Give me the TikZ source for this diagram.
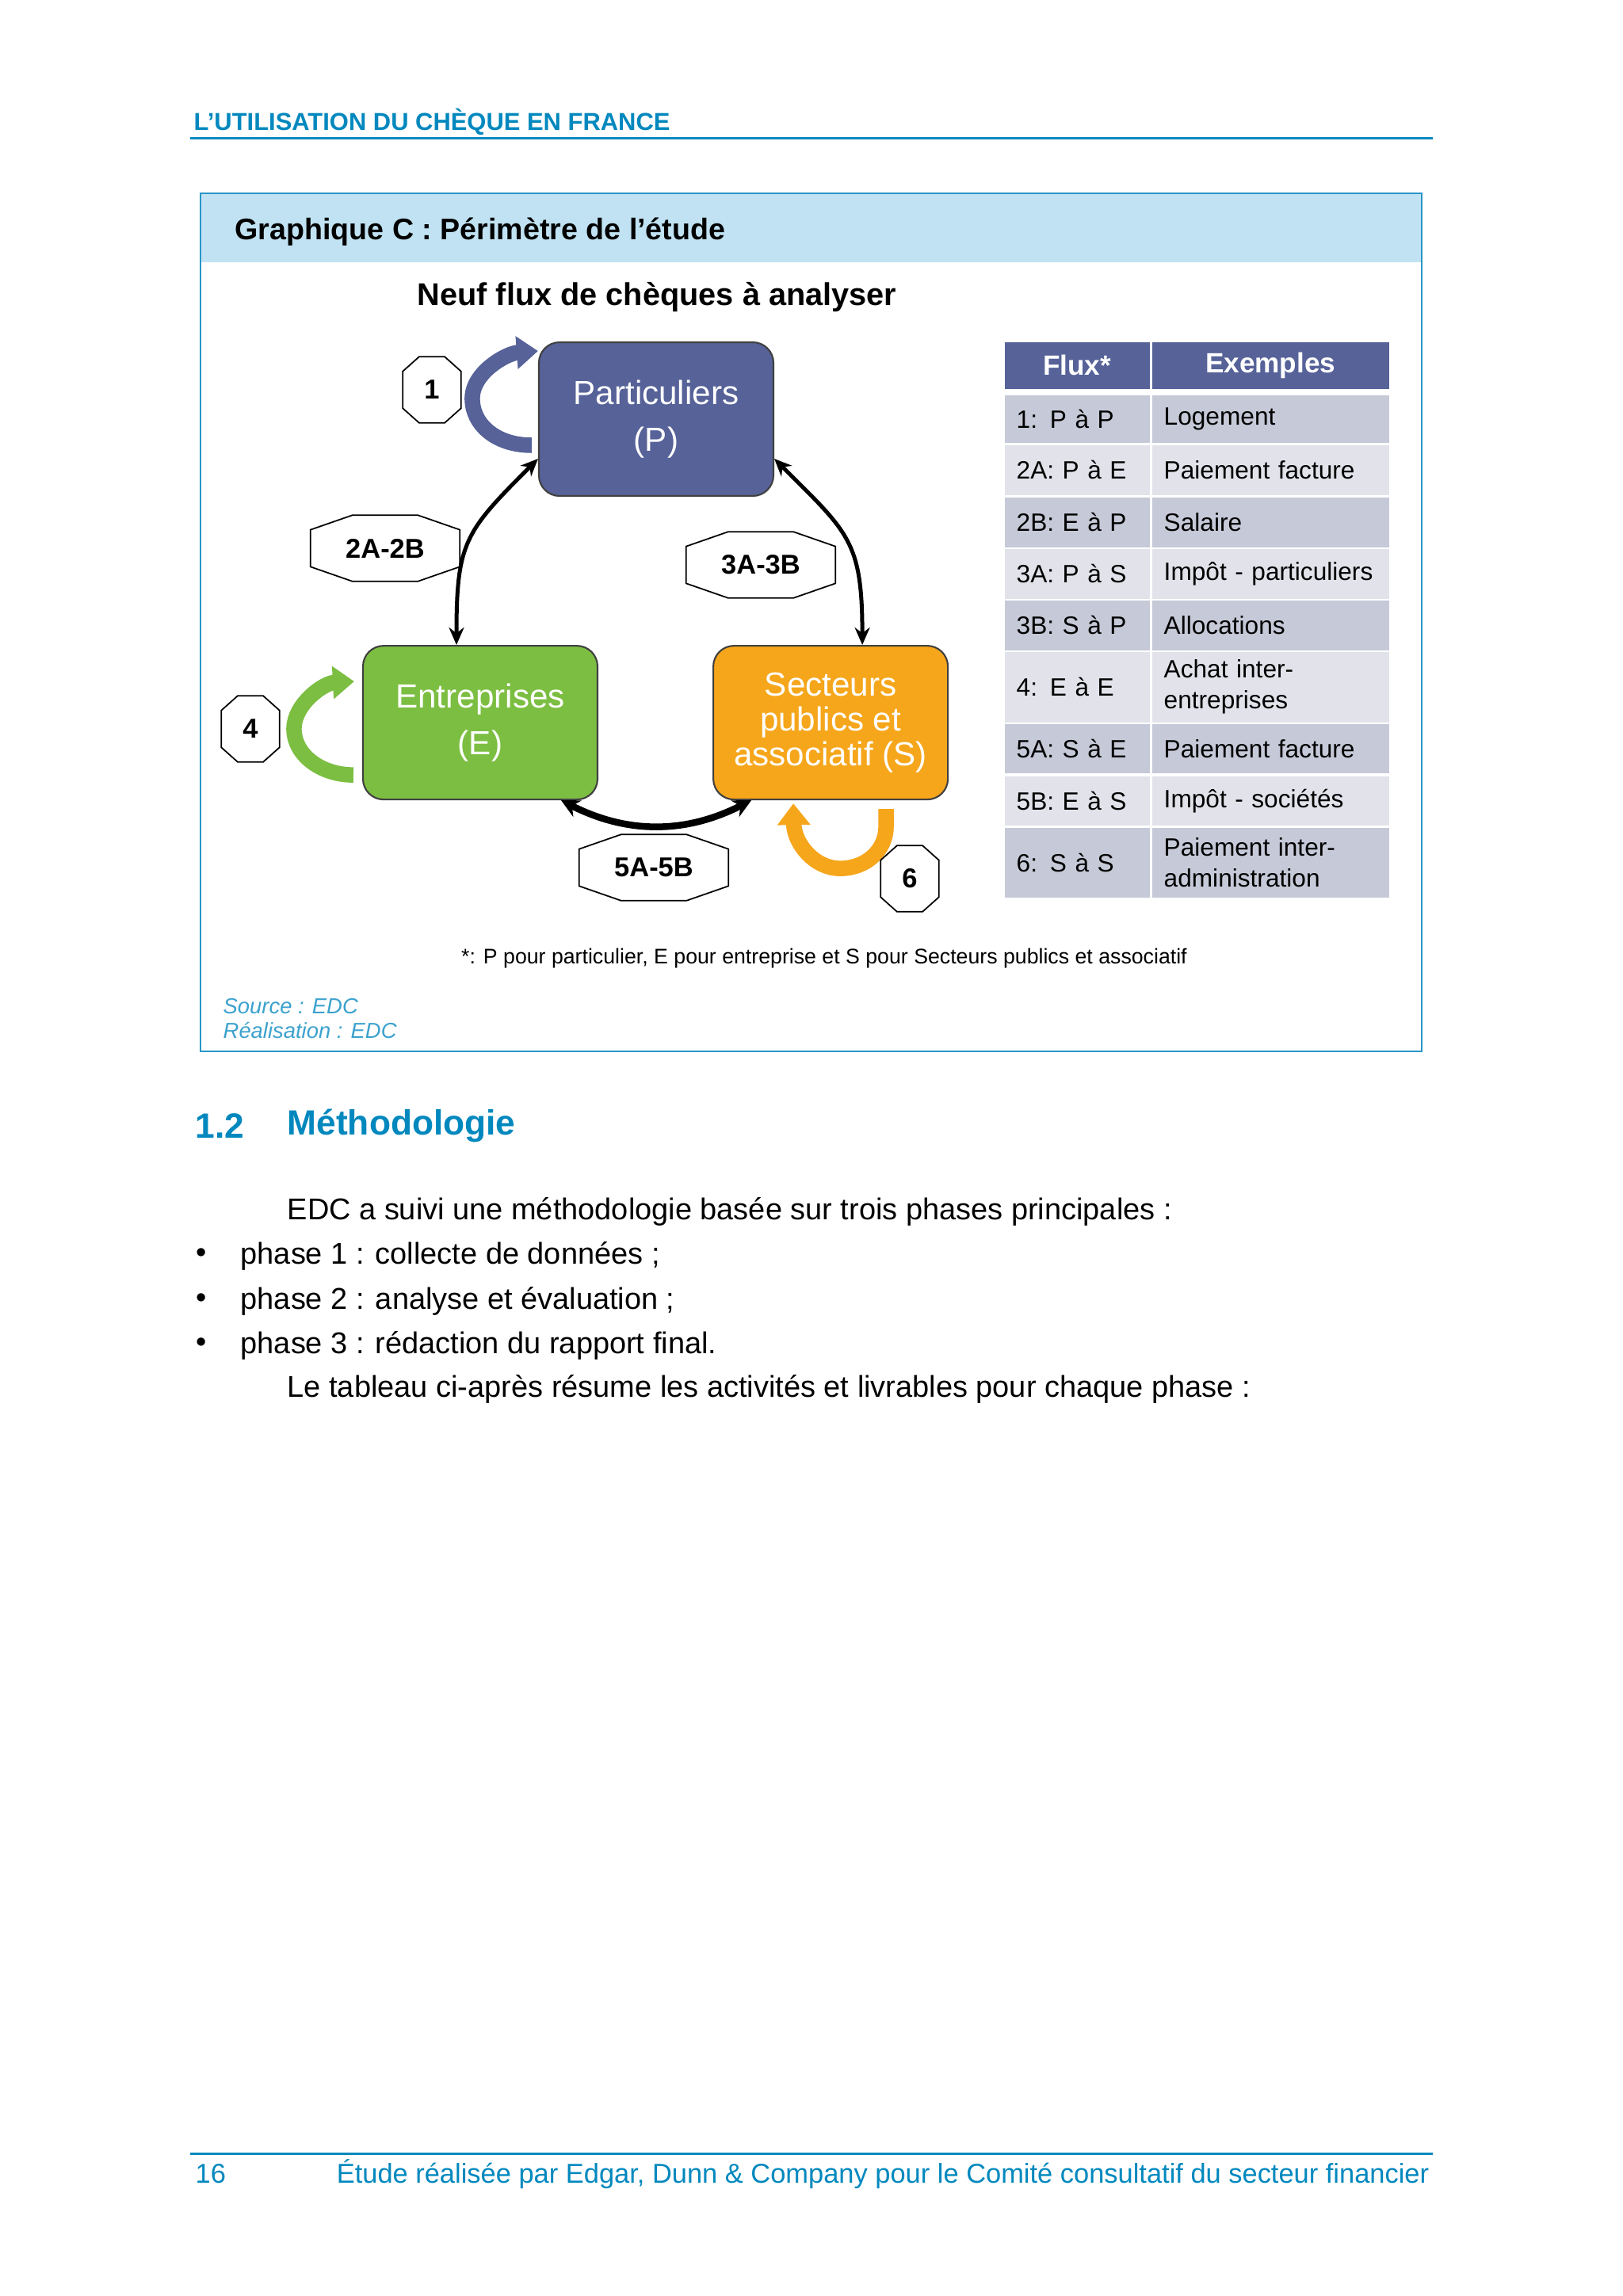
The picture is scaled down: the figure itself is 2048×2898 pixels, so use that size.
\documentclass[tikz,border=0pt]{standalone}
\usepackage{fontspec}
\setmainfont{Liberation Sans}
\usetikzlibrary{positioning,calc,arrows.meta}
\definecolor{edcblue}{RGB}{0,136,190}
\definecolor{edcframe}{RGB}{40,150,200}
\definecolor{edcband}{RGB}{192,226,242}
\definecolor{edcsource}{RGB}{60,162,206}
\definecolor{partblue}{RGB}{86,98,152}
\definecolor{entgreen}{RGB}{124,190,66}
\definecolor{secorange}{RGB}{246,166,27}
\definecolor{rowdark}{RGB}{198,201,215}
\definecolor{rowlight}{RGB}{226,227,234}

% octagon drawn round a label node
\newcommand{\octagon}[1]{%
  \draw[lblline] ($(#1.north west)!0.28!(#1.north east)$) -- ($(#1.north west)!0.72!(#1.north east)$)
    -- ($(#1.north east)!0.22!(#1.south east)$) -- ($(#1.north east)!0.78!(#1.south east)$)
    -- ($(#1.south east)!0.28!(#1.south west)$) -- ($(#1.south east)!0.72!(#1.south west)$)
    -- ($(#1.south west)!0.22!(#1.north west)$) -- ($(#1.south west)!0.78!(#1.north west)$) -- cycle;}

\begin{document}
\begin{tikzpicture}[x=0.1mm, y=-0.1mm, every node/.style={inner sep=0pt},
  sector/.style={rectangle, rounded corners=2.6mm, draw=black!75, line width=0.6pt,
                 minimum width=29.6mm, minimum height=19.4mm, align=center, text=white,
                 font=\fontsize{12}{12.4}\selectfont},
  lbl/.style={minimum width=18.7mm, minimum height=8.2mm, font=\fontsize{9.8}{11}\selectfont\bfseries},
  lblsmall/.style={lbl, minimum width=7.2mm},
  lblline/.style={draw=black, line width=0.5pt},
  flow/.style={line width=0.5mm, {Stealth[length=2.2mm,width=1.9mm]}-{Stealth[length=2.2mm,width=1.9mm]}},
  flowthick/.style={line width=0.85mm, {Stealth[length=2.3mm,width=2.3mm]}-{Stealth[length=2.3mm,width=2.3mm]}},
  loop/.style={line width=1.95mm, -{Triangle[width=4mm,length=2.7mm]}},
  cell/.style={anchor=north west, inner xsep=1.5mm, align=left, font=\fontsize{9}{11.1}\selectfont},
  headcell/.style={cell, fill=partblue, text=white, align=center, minimum height=5.9mm,
                   font=\fontsize{10}{12}\selectfont\bfseries},
  body/.style={anchor=west, font=\fontsize{10.8}{13}\selectfont}
]
\useasboundingbox (0,0) rectangle (2048,2898);
\fill[white] (0,0) rectangle (2048,2898);

% running head
\node[anchor=west, text=edcblue, font=\fontsize{8.8}{10}\selectfont\bfseries] (runhead) at (244,154) {L’UTILISATION DU CHÈQUE EN FRANCE};
\draw[edcblue, line width=0.3mm] (240,174) -- (1808,174);

% figure frame
\draw[edcframe, line width=0.25mm] (253,244) rectangle (1794,1327);
\fill[edcband] (254,245) rectangle (1793,331);
\node[anchor=west, font=\fontsize{10.7}{12}\selectfont\bfseries] (gtitle) at (296,293) {Graphique C : Périmètre de l’étude};
\node[font=\fontsize{11.3}{13}\selectfont\bfseries] (subtitle) at (829,375) {Neuf flux de chèques à analyser};

% sectors
\node[sector, fill=partblue] (P) at (828,529) {Particuliers\\[4.4pt](P)};
\node[sector, fill=entgreen, below=18.7mm of P, xshift=-22.2mm] (E) {Entreprises\\[4.4pt](E)};
\node[sector, fill=secorange, right=14.4mm of E] (S) {Secteurs\\publics et\\associatif (S)};

% flows between sectors
\draw[flow] ([xshift=-3mm]E.north) to[out=90, in=225, looseness=1.3] ([yshift=-5mm]P.west);
\draw[flow] ([xshift=4mm]S.north) to[out=90, in=-45, looseness=1.3] ([yshift=-5mm]P.east);
\draw[flowthick] ([xshift=10.2mm]E.south) to[bend right=27] ([xshift=-10mm]S.south);

% flows inside a sector
\draw[loop, partblue] ($(P.west)+(-8,33)$) .. controls +(-45,0) and +(0,33) .. ($(P.west)+(-83,-26)$)
  .. controls +(0,-33) and +(-40,3) .. ($(P.west)+(0,-86)$);
\draw[loop, entgreen] ($(E.west)+(-11,66)$) .. controls +(-42,0) and +(0,32) .. ($(E.west)+(-86,8)$)
  .. controls +(0,-32) and +(-38,2) .. ($(E.west)+(-10,-52)$);
\draw[loop, secorange] ($(S.south)+(70,11)$) -- ++(0,22) .. controls +(0,30) and +(33,0) .. ($(S.south)+(12,86)$)
  .. controls +(-33,0) and +(1,50) .. ($(S.south)+(-47,4)$);

% flow labels
\node[lblsmall] (l1) at (545,492) {1};
\node[lbl] (l2) at (486,692) {2A-2B};
\node[lbl] (l3) at (960,713) {3A-3B};
\node[lblsmall] (l4) at (316,920) {4};
\node[lbl] (l5) at (825,1095) {5A-5B};
\node[lblsmall] (l6) at (1148,1109) {6};
\foreach \l in {l1,l2,l3,l4,l5,l6} {\octagon{\l}}

% table of flows
\node[headcell, text width=15.3mm] (hflux) at (1267,431) {Flux*};
\node[headcell, text width=26.9mm] (hex) at (1453,431) {Exemples};
\foreach \ytop/\rh/\flux/\ex/\shade [count=\i] in {
    498/60/{1: P à P}/{Logement}/rowdark,
    561/63/{2A: P à E}/{Paiement facture}/rowlight,
    627/63/{2B: E à P}/{Salaire}/rowdark,
    692/63/{3A: P à S}/{Impôt - particuliers}/rowlight,
    757/63/{3B: S à P}/{Allocations}/rowdark,
    822/89/{4: E à E}/{Achat inter-\\entreprises}/rowlight,
    913/62/{5A: S à E}/{Paiement facture}/rowdark,
    979/62/{5B: E à S}/{Impôt - sociétés}/rowlight,
    1044/88/{6: S à S}/{Paiement inter-\\administration}/rowdark} {
  \node[cell, fill=\shade, minimum height=\rh*0.1mm, text width=15.3mm] (f\i) at (1267,\ytop) {\flux};
  \node[cell, fill=\shade, minimum height=\rh*0.1mm, text width=26.9mm] (x\i) at (1453,\ytop) {\ex};
}

\node[font=\fontsize{7.6}{9}\selectfont] (note) at (1040,1210) {*: P pour particulier, E pour entreprise et S pour Secteurs publics et associatif};
\node[anchor=west, text=edcsource, font=\fontsize{7.8}{9}\selectfont\itshape] (src) at (281,1270) {Source : EDC};
\node[anchor=west, text=edcsource, font=\fontsize{7.8}{9}\selectfont\itshape] (real) at (281,1301) {Réalisation : EDC};

% section text
\node[anchor=west, text=edcblue, font=\fontsize{12.6}{15}\selectfont\bfseries] (secnum) at (246,1421) {1.2};
\node[anchor=west, text=edcblue, font=\fontsize{12.6}{15}\selectfont\bfseries] (sectitle) at (362,1421) {Méthodologie};
\node[body] (intro) at (362,1529) {EDC a suivi une méthodologie basée sur trois phases principales :};
\foreach \yy/\txt [count=\i] in {1585/{phase 1 : collecte de données ;},
                                 1642/{phase 2 : analyse et évaluation ;},
                                 1698/{phase 3 : rédaction du rapport final.}} {
  \node[body] (bul\i) at (247,\yy) {\textbullet};
  \node[body] (ph\i) at (303,\yy) {\txt};
}
\node[body] (outro) at (362,1753) {Le tableau ci-après résume les activités et livrables pour chaque phase :};

% footer
\draw[edcblue, line width=0.3mm] (240,2718) -- (1808,2718);
\node[anchor=west, text=edcblue, font=\fontsize{9.8}{12}\selectfont] (pagenum) at (246,2744) {16};
\node[anchor=east, text=edcblue, font=\fontsize{9.8}{12}\selectfont] (foot) at (1804,2744) {Étude réalisée par Edgar, Dunn \& Company pour le Comité consultatif du secteur financier};
\end{tikzpicture}
\end{document}
